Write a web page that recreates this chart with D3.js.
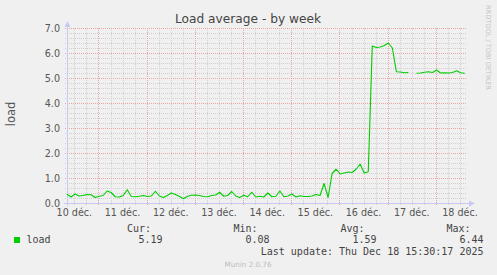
<!DOCTYPE html>
<html><head><meta charset="utf-8">
<script src="https://cdn.jsdelivr.net/npm/d3@7"></script>
<style>
html,body{margin:0;padding:0;background:#f0f0f0;}
svg{display:block;}
</style></head>
<body>
<svg id="chart" width="497" height="275"></svg>
<script>
// ---- data ----
const title = "Load average - by week";
const yLabel = "load";
const seriesName = "load";
const seriesStart = Date.UTC(2025, 11, 10, 8, 20);   // first sample
const stepHours = 2;                                  // sample interval
const loadValues = [
  0.35,0.24,0.36,0.28,0.30,0.34,0.33,0.22,0.27,0.30,
  0.48,0.42,0.25,0.24,0.30,0.53,0.26,0.25,0.27,0.30,
  0.26,0.28,0.47,0.28,0.22,0.30,0.40,0.34,0.26,0.17,
  0.27,0.31,0.32,0.30,0.26,0.25,0.30,0.32,0.43,0.27,
  0.30,0.46,0.28,0.22,0.31,0.25,0.43,0.24,0.27,0.24,
  0.40,0.25,0.27,0.48,0.25,0.28,0.36,0.24,0.29,0.26,
  0.26,0.28,0.34,0.30,0.78,0.22,1.18,1.35,1.16,1.20,
  1.24,1.22,1.36,1.55,1.20,1.25,6.28,6.22,6.24,6.30,
  6.40,6.20,5.25,5.24,5.21,5.22,null,5.19,5.20,5.23,
  5.25,5.22,5.32,5.20,5.21,5.20,5.22,5.29,5.21,5.19
];
const dayLabels = ["10 déc.","11 déc.","12 déc.","13 déc.","14 déc.","15 déc.","16 déc.","17 déc.","18 déc."];
const dayLabelDates = [10,11,12,13,14,15,16,17,18];
const yTickFormat = d3.format(".1f");
const statHeaders = ["Cur:","Min:","Avg:","Max:"];
const statValues = ["5.19","0.08","1.59","6.44"];
const lastUpdate = "Last update: Thu Dec 18 15:30:17 2025";
const footer = "Munin 2.0.76";
const watermark = "RRDTOOL / TOBI OETIKER";
const domainStart = Date.UTC(2025, 11, 10, 8, 20);
const domainEnd = Date.UTC(2025, 11, 18, 15, 30);

// ---- layout ----
const svg = d3.select("#chart");
const L = 67, R = 467, T = 28, B = 203;
const x = d3.scaleUtc().domain([domainStart, domainEnd]).range([L, R]);
const y = d3.scaleLinear().domain([0, 7]).range([B, T]);

svg.append("rect").attr("width",497).attr("height",275).attr("fill","#f0f0f0");

const g = svg.append("g");
const grid = g.append("g").attr("shape-rendering","crispEdges");
// minor grid
const minorY = y.ticks(35).filter(v => Math.abs(v - Math.round(v)) > 1e-6);
grid.selectAll(".hmin").data(minorY).join("line")
  .attr("x1", L-2).attr("x2", R).attr("y1", d=>Math.round(y(d))+0.5).attr("y2", d=>Math.round(y(d))+0.5)
  .attr("stroke","#d0d0d0").attr("stroke-dasharray","1,1");
const minorX = d3.utcHour.every(6).range(new Date(domainStart), new Date(domainEnd))
  .filter(d => d.getUTCHours() !== 0);
grid.selectAll(".vmin").data(minorX).join("line")
  .attr("x1", d=>Math.round(x(d))+0.5).attr("x2", d=>Math.round(x(d))+0.5).attr("y1", T).attr("y2", B+2)
  .attr("stroke","#d0d0d0").attr("stroke-dasharray","1,1");
// major grid
grid.selectAll(".hmaj").data(y.ticks(7).filter(v=>v>0)).join("line")
  .attr("x1", L-2).attr("x2", R).attr("y1", d=>Math.round(y(d))+0.5).attr("y2", d=>Math.round(y(d))+0.5)
  .attr("stroke","#e6a4a4").attr("stroke-dasharray","1,1");
const majorX = d3.utcDay.range(new Date(domainStart), new Date(domainEnd));
grid.selectAll(".vmaj").data(majorX).join("line")
  .attr("x1", d=>Math.round(x(d))+0.5).attr("x2", d=>Math.round(x(d))+0.5).attr("y1", T).attr("y2", B+3)
  .attr("stroke","#e6a4a4").attr("stroke-dasharray","1,1");

// axes lines with arrows
const axisCol = "#c8c8f4";
g.append("line").attr("x1", L+0.5).attr("x2", L+0.5).attr("y1", B+3).attr("y2", T-4).attr("stroke", axisCol);
g.append("path").attr("d", `M${L-2.5},${T-1} L${L+3.5},${T-1} L${L+0.5},${T-7} Z`).attr("fill", axisCol);
g.append("line").attr("x1", L-3).attr("x2", R+4).attr("y1", B+0.5).attr("y2", B+0.5).attr("stroke", axisCol);
g.append("path").attr("d", `M${R+2},${B-2.5} L${R+2},${B+3.5} L${R+8},${B+0.5} Z`).attr("fill", axisCol);

// y tick labels
g.selectAll(".ylab").data(y.ticks(7)).join("text")
  .attr("x", 60).attr("y", d=>y(d)+3.5).attr("text-anchor","end")
  .attr("font-family","DejaVu Sans").attr("font-size","9.6px").attr("fill","#555")
  .text(d=>yTickFormat(d));
// x tick labels (centered at noon)
g.selectAll(".xlab").data(dayLabels).join("text")
  .attr("x", (d,i)=>x(Date.UTC(2025,11,dayLabelDates[i],12,0))).attr("y", 216)
  .attr("text-anchor","middle")
  .attr("font-family","DejaVu Sans").attr("font-size","9.6px").attr("fill","#555")
  .text(d=>d);

// data line
const pts = loadValues.map((v,i)=>({t: seriesStart + i*stepHours*3600e3, v}));
const line = d3.line().defined(d=>d.v!==null).x(d=>x(d.t)).y(d=>y(d.v));
g.append("path").datum(pts).attr("d", line).attr("fill","none")
  .attr("stroke","#00cc00").attr("stroke-width",1.1).attr("stroke-linejoin","round");

// title
svg.append("text").attr("x", 248).attr("y", 23).attr("text-anchor","middle")
  .attr("font-family","DejaVu Sans").attr("font-size","12.2px").attr("fill","#444").text(title);
// y label
svg.append("text").attr("transform","translate(14.5,114) rotate(-90)").attr("text-anchor","middle")
  .attr("font-family","DejaVu Sans").attr("font-size","11.5px").attr("fill","#555").text(yLabel);
// watermark
svg.append("text").attr("transform","translate(485.5,5) rotate(90)").attr("text-anchor","start")
  .attr("font-family","DejaVu Sans").attr("font-size","6.6px").attr("fill","#c4c4c4").text(watermark);

// legend
const mono = "DejaVu Sans Mono";
svg.append("rect").attr("x",14).attr("y",237).attr("width",6).attr("height",6).attr("fill","#00cc00");
svg.append("text").attr("x",26.5).attr("y",243).attr("font-family",mono).attr("font-size","10px").attr("fill","#444").text(seriesName);
const hdrX = [127, 233.5, 340.5, 446.5];
const valX = [162.5, 269.5, 376.5, 483.5];
svg.selectAll(".hdr").data(statHeaders).join("text")
  .attr("x",(d,i)=>hdrX[i]).attr("y",231.5).attr("font-family",mono).attr("font-size","10px").attr("fill","#444").text(d=>d);
svg.selectAll(".val").data(statValues).join("text")
  .attr("x",(d,i)=>valX[i]).attr("y",243).attr("text-anchor","end").attr("font-family",mono).attr("font-size","10px").attr("fill","#444").text(d=>d);
svg.append("text").attr("x",483.5).attr("y",254.5).attr("text-anchor","end").attr("font-family",mono).attr("font-size","10px").attr("fill","#444").text(lastUpdate);
svg.append("text").attr("x",248).attr("y",267).attr("text-anchor","middle").attr("font-family","DejaVu Sans").attr("font-size","7.2px").attr("fill","#bdbdbd").text(footer);
</script>
</body></html>
